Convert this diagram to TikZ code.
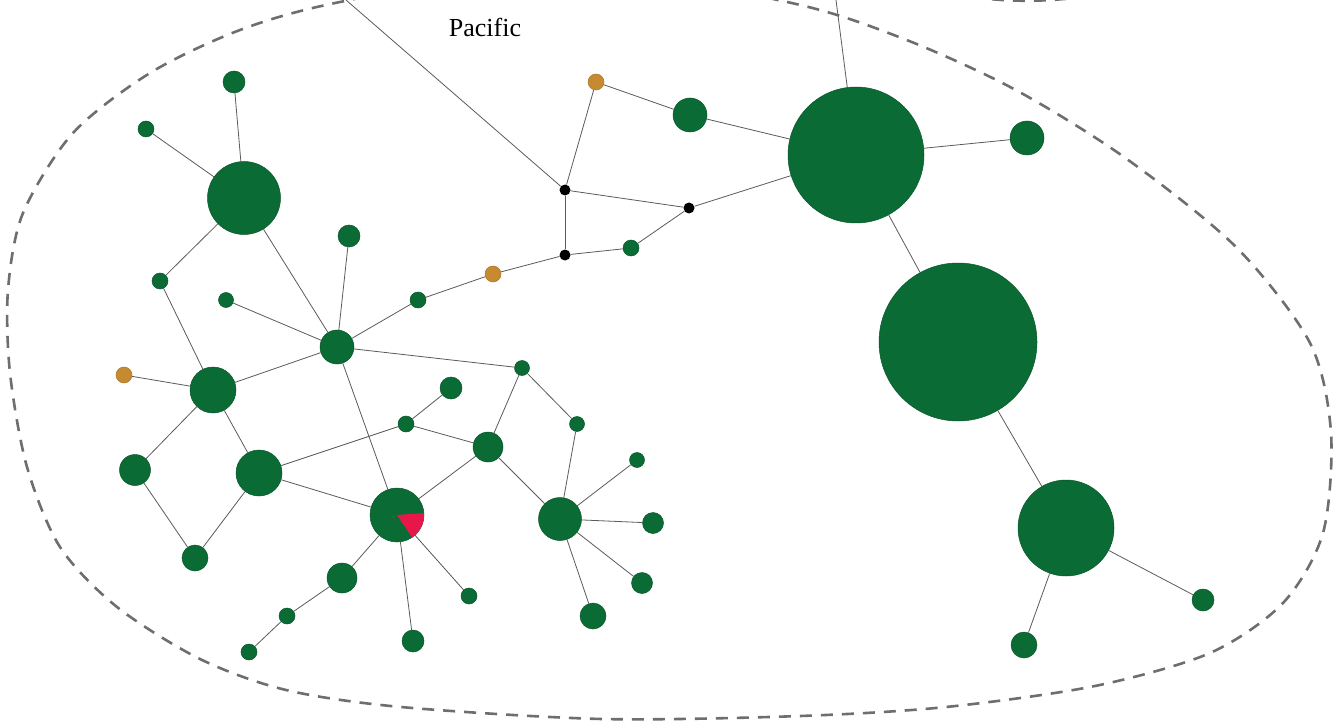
\documentclass[tikz,border=0pt]{standalone}
\usepackage{fontspec}
\setmainfont{Liberation Serif}
\definecolor{grn}{HTML}{0B6B35}
\definecolor{grnd}{HTML}{07572A}
\definecolor{orng}{HTML}{C68A30}
\definecolor{piered}{HTML}{E8174B}
\definecolor{edgegray}{HTML}{5A5A5A}
\definecolor{outlinegray}{HTML}{6E6E6E}
\tikzset{
  gnode/.style={circle, fill=grn, draw=grnd, line width=0.5pt, inner sep=0pt, minimum size=#1},
  onode/.style={circle, fill=orng, draw=orng!85!black, line width=0.5pt, inner sep=0pt, minimum size=#1},
  bnode/.style={circle, fill=black, inner sep=0pt, minimum size=#1},
  edge/.style={draw=edgegray, line width=0.8pt},
  outline/.style={draw=outlinegray, line width=2.6pt, dash pattern=on 12pt off 9pt}
}
\newcommand\gn[4]{\node[gnode=#4pt] (#1) at (#2,#3) {};}
\begin{document}
\begin{tikzpicture}[x=1pt,y=-1pt]
\useasboundingbox (0,0) rectangle (1333,722);
\begin{scope}
\clip (0,0) rectangle (1333,722);
\draw[outline] plot[smooth cycle] coordinates {(560,-35) (787,2) (899,37) (1012,88) (1124,157) (1236,247) (1310,343) (1331,433) (1323,533) (1283,603) (1210,653) (1095,686) (946,707) (800,716) (602,719) (401,707) (286,690) (200,659) (117,607) (60,547) (27,467) (10,373) (8,290) (23,213) (73,133) (150,73) (240,30) (340,2)};
\draw[outline] (930,-12) .. controls (990,5) and (1060,5) .. (1130,-12);
\end{scope}

\node[font=\fontsize{26}{30}\selectfont] (lbl) at (485,27) {Pacific};

\coordinate (top1) at (346,0);
\coordinate (top2) at (836,0);

% right cluster
\gn{A}{856}{155}{136}
\gn{B}{958}{342}{158}
\gn{C}{1066}{528}{96}
\gn{D}{1027}{138}{34}
\gn{E}{1203}{600}{22}
\gn{F}{1024}{645}{26}
\gn{G}{690}{115}{34}
\node[onode=16pt] (H) at (596,82) {};
\node[bnode=11pt] (J1) at (565,190) {};
\node[bnode=11pt] (J2) at (689,208) {};
\node[bnode=11pt] (J3) at (565,255) {};
\gn{K}{631}{248}{16}
\node[onode=16pt] (L) at (493,274) {};
\gn{M}{418}{300}{16}

% left cluster
\gn{N}{337}{347}{34}
\gn{P}{244}{198}{73}
\gn{Q}{234}{82}{22}
\gn{R}{146}{129}{16}
\gn{S}{349}{236}{22}
\gn{T}{160}{281}{16}
\gn{U}{226}{300}{15}
\node[onode=16pt] (V) at (124,375) {};
\gn{W}{213}{390}{46}
\gn{X}{135}{470}{31}
\gn{Y}{259}{473}{46}
\gn{Z}{195}{558}{26}
\gn{AA}{397}{515}{54}
\fill[piered] (397,515) -- ++(4:27pt) arc[start angle=4, end angle=-56, radius=27pt] -- cycle;
\gn{AB}{406}{424}{16}
\gn{AC}{451}{388}{22}
\gn{AD}{488}{447}{30}
\gn{AE}{522}{368}{15}
\gn{AF}{577}{424}{15}
\gn{AG}{560}{519}{43}
\gn{AH}{637}{460}{15}
\gn{AI}{653}{523}{21}
\gn{AJ}{642}{583}{21}
\gn{AK}{593}{616}{26}
\gn{AL}{342}{578}{30}
\gn{AM}{287}{616}{16}
\gn{AN}{249}{652}{16}
\gn{AO}{413}{641}{22}
\gn{AP}{469}{596}{16}

% edges
\draw[edge] (top1) -- (J1);
\draw[edge] (top2) -- (A);
\draw[edge] (H) -- (J1);
\draw[edge] (H) -- (G);
\draw[edge] (G) -- (A);
\draw[edge] (J1) -- (J2);
\draw[edge] (J2) -- (A);
\draw[edge] (J1) -- (J3);
\draw[edge] (J3) -- (K);
\draw[edge] (K) -- (J2);
\draw[edge] (J3) -- (L);
\draw[edge] (L) -- (M);
\draw[edge] (M) -- (N);
\draw[edge] (A) -- (D);
\draw[edge] (A) -- (B);
\draw[edge] (B) -- (C);
\draw[edge] (C) -- (E);
\draw[edge] (C) -- (F);
\draw[edge] (N) -- (P);
\draw[edge] (P) -- (Q);
\draw[edge] (P) -- (R);
\draw[edge] (P) -- (T);
\draw[edge] (T) -- (W);
\draw[edge] (N) -- (S);
\draw[edge] (N) -- (U);
\draw[edge] (N) -- (W);
\draw[edge] (V) -- (W);
\draw[edge] (W) -- (X);
\draw[edge] (W) -- (Y);
\draw[edge] (X) -- (Z);
\draw[edge] (Y) -- (Z);
\draw[edge] (N) -- (AE);
\draw[edge] (N) -- (AA);
\draw[edge] (Y) -- (AA);
\draw[edge] (Y) -- (AB);
\draw[edge] (AB) -- (AC);
\draw[edge] (AB) -- (AD);
\draw[edge] (AD) -- (AA);
\draw[edge] (AD) -- (AE);
\draw[edge] (AE) -- (AF);
\draw[edge] (AF) -- (AG);
\draw[edge] (AD) -- (AG);
\draw[edge] (AG) -- (AH);
\draw[edge] (AG) -- (AI);
\draw[edge] (AG) -- (AJ);
\draw[edge] (AG) -- (AK);
\draw[edge] (AA) -- (AL);
\draw[edge] (AL) -- (AM);
\draw[edge] (AM) -- (AN);
\draw[edge] (AA) -- (AO);
\draw[edge] (AA) -- (AP);
\end{tikzpicture}
\end{document}
